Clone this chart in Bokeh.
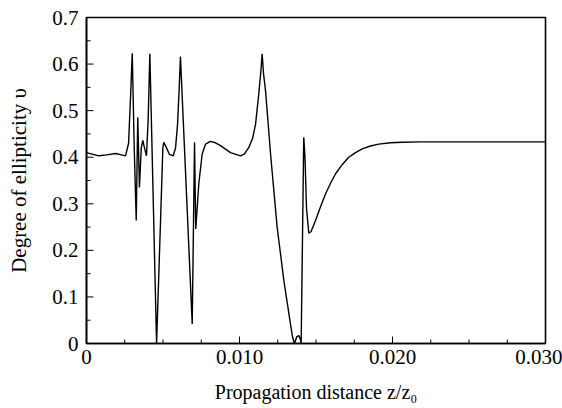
import math
from bokeh.plotting import figure
from bokeh.models import FixedTicker
from bokeh.embed import file_html
from bokeh.resources import INLINE

# propagation distance z/z0
z = [0.00000, 0.00080, 0.00131, 0.00190, 0.00229, 0.00255, 0.00275, 0.00288,
     0.00299, 0.00312, 0.00325, 0.00335, 0.00346, 0.00358, 0.00368, 0.00379,
     0.00392, 0.00403, 0.00414, 0.00458, 0.00484, 0.00499, 0.00505, 0.00523,
     0.00542, 0.00567, 0.00582, 0.00595, 0.00606, 0.00614, 0.00691, 0.00706,
     0.00714, 0.00734, 0.00756, 0.00778, 0.00810, 0.00843, 0.00876, 0.00941,
     0.01007, 0.01033, 0.01061, 0.01085, 0.01105, 0.01126, 0.01141, 0.01148,
     0.01157, 0.01170, 0.01183, 0.01203, 0.01246, 0.01290, 0.01333, 0.01346,
     0.01359, 0.01375, 0.01388, 0.01399, 0.01403, 0.01420, 0.01428, 0.01438,
     0.01453, 0.01467, 0.01497, 0.01529, 0.01562, 0.01595, 0.01627, 0.01671,
     0.01714, 0.01758, 0.01802, 0.01856, 0.01910, 0.01987, 0.02063, 0.02183,
     0.02379, 0.03000]
# degree of ellipticity
v = [0.410, 0.403, 0.405, 0.408, 0.405, 0.403, 0.430, 0.530,
     0.623, 0.420, 0.264, 0.486, 0.335, 0.420, 0.436, 0.420,
     0.403, 0.480, 0.622, 0.000, 0.264, 0.420, 0.432, 0.420,
     0.406, 0.403, 0.420, 0.470, 0.550, 0.616, 0.042, 0.432,
     0.246, 0.343, 0.407, 0.428, 0.434, 0.431, 0.425, 0.410,
     0.403, 0.407, 0.421, 0.440, 0.471, 0.536, 0.590, 0.622,
     0.580, 0.543, 0.490, 0.407, 0.250, 0.135, 0.042, 0.015,
     0.000, 0.015, 0.017, 0.008, 0.000, 0.443, 0.400, 0.290,
     0.237, 0.240, 0.264, 0.293, 0.321, 0.344, 0.364, 0.384,
     0.400, 0.410, 0.418, 0.424, 0.428, 0.431, 0.432, 0.433,
     0.433, 0.433]

x_major = [0, 0.01, 0.02, 0.03]
x_labels = ["0", "0.010", "0.020", "0.030"]
x_minor = [0.0025, 0.005, 0.0075, 0.0125, 0.015, 0.0175, 0.0225, 0.025, 0.0275]
y_major = [0, 0.1, 0.2, 0.3, 0.4, 0.5, 0.6, 0.7]
y_labels = ["0", "0.1", "0.2", "0.3", "0.4", "0.5", "0.6", "0.7"]
y_minor = [0.05, 0.15, 0.25, 0.35, 0.45, 0.55, 0.65]

x_title = "Propagation distance z/z\u2080"
y_title = "Degree of ellipticity \u03c5"

FONT = "Liberation Serif"

p = figure(width=562, height=408, x_range=(0, 0.03), y_range=(0, 0.7),
           output_backend="svg", toolbar_location=None,
           min_border_left=86, min_border_right=17, min_border_top=17,
           min_border_bottom=65)

p.line(z, v, line_color="black", line_width=1.4)

# inward tick marks along the bottom and left frame edges (outer half clipped by the frame)
p.scatter(x=x_major, y=0, marker="dash", size=14, angle=math.pi / 2,
          line_color="black", line_width=1)
p.scatter(x=x_minor, y=0, marker="dash", size=8, angle=math.pi / 2,
          line_color="black", line_width=1)
p.scatter(x=0, y=y_major, marker="dash", size=14, angle=0,
          line_color="black", line_width=1)
p.scatter(x=0, y=y_minor, marker="dash", size=8, angle=0,
          line_color="black", line_width=1)

p.grid.visible = False
p.outline_line_color = "black"
p.outline_line_width = 1.6
p.outline_line_alpha = 1.0

p.xaxis.ticker = FixedTicker(ticks=x_major, minor_ticks=x_minor)
p.yaxis.ticker = FixedTicker(ticks=y_major, minor_ticks=y_minor)
p.xaxis.major_label_overrides = dict(zip(x_major, x_labels))
p.yaxis.major_label_overrides = dict(zip(y_major, y_labels))

for ax in p.axis:
    ax.axis_line_color = "black"
    ax.axis_line_width = 1.6
    ax.major_tick_in = 0
    ax.major_tick_out = 0
    ax.minor_tick_in = 0
    ax.minor_tick_out = 0
    ax.major_label_text_font = FONT
    ax.major_label_text_font_size = "21px"
    ax.major_label_text_color = "black"
    ax.axis_label_text_font = FONT
    ax.axis_label_text_font_style = "normal"
    ax.axis_label_text_color = "black"
p.xaxis.major_label_standoff = 6
p.yaxis.major_label_standoff = 8

p.xaxis.axis_label = x_title
p.xaxis.axis_label_text_font_size = "20px"
p.xaxis.axis_label_standoff = 14
p.yaxis.axis_label = y_title
p.yaxis.axis_label_text_font_size = "21px"
p.yaxis.axis_label_standoff = 18

open("out.html", "w").write(file_html(p, INLINE))
